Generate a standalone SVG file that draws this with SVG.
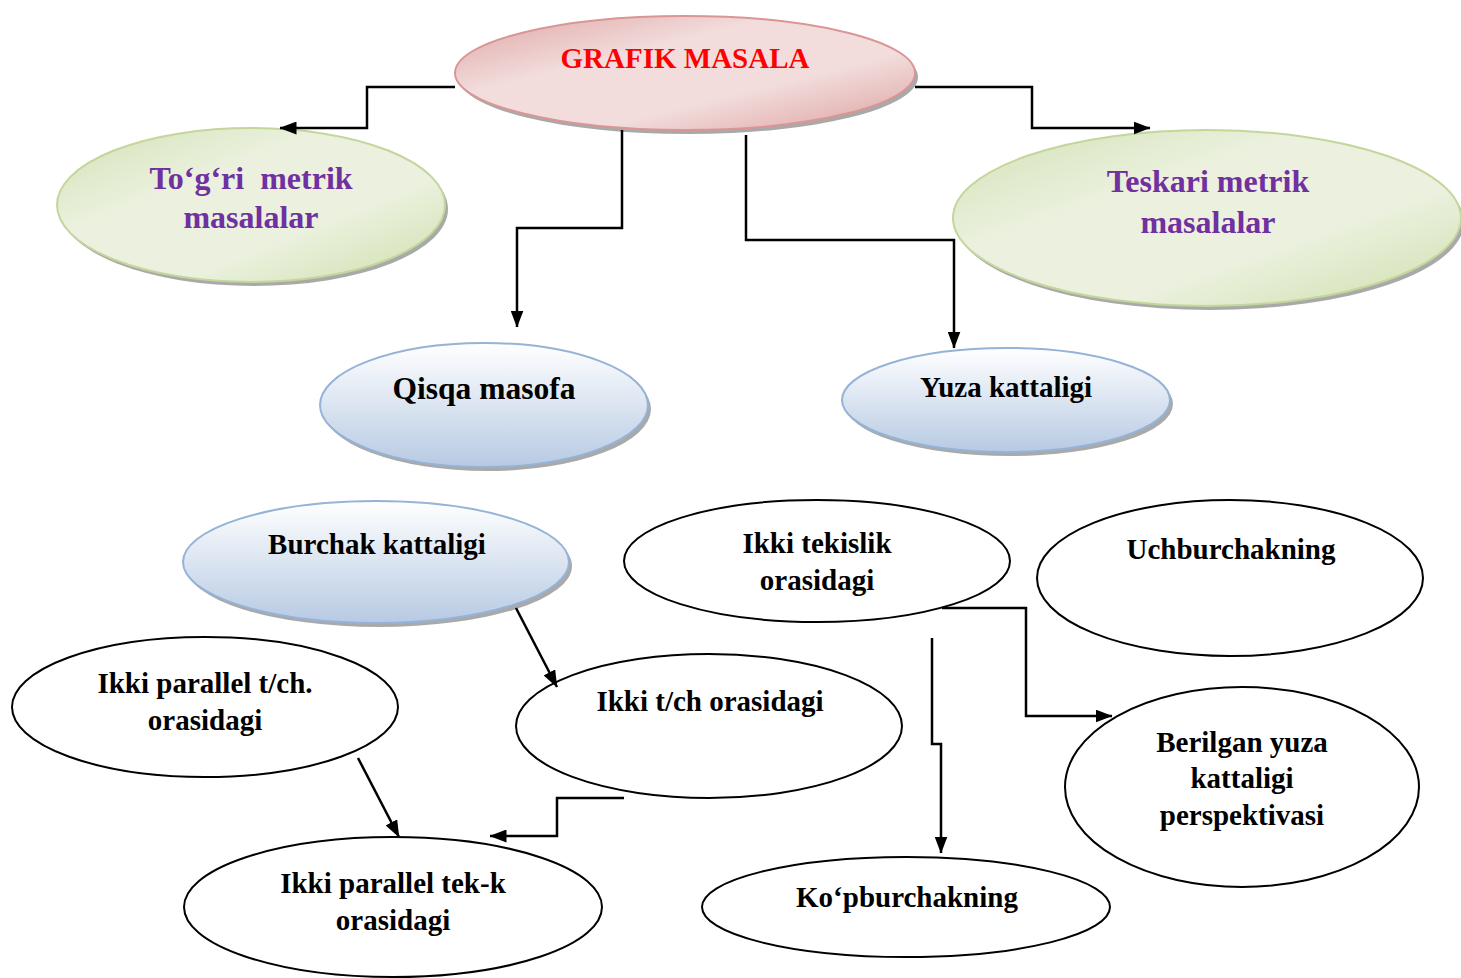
<svg xmlns="http://www.w3.org/2000/svg" width="1461" height="978" viewBox="0 0 1461 978">
<style>
text{font-family:"Liberation Serif","Times New Roman",serif;font-weight:bold;text-anchor:middle}
.t{font-size:29px;fill:#000}
.p{font-size:32px;fill:#7030a0}
.plain{fill:#fff;stroke:#000;stroke-width:2}
.shadow{fill:#8c8c8c;opacity:0.75}
.conn{fill:none;stroke:#000;stroke-width:2.5}
</style>
<defs>
<linearGradient id="gRed" x1="0" y1="0" x2="1" y2="1">
<stop offset="0" stop-color="#dea4a3"/>
<stop offset="0.35" stop-color="#f2dcdc"/>
<stop offset="0.65" stop-color="#f2dcdc"/>
<stop offset="1" stop-color="#dca09e"/>
</linearGradient>
<linearGradient id="gGreen" x1="0" y1="0" x2="1" y2="1">
<stop offset="0" stop-color="#d3e1b5"/>
<stop offset="0.35" stop-color="#ebf1de"/>
<stop offset="0.65" stop-color="#ebf1de"/>
<stop offset="1" stop-color="#cfdeac"/>
</linearGradient>
<linearGradient id="gBlue" x1="0" y1="0" x2="0" y2="1">
<stop offset="0" stop-color="#ffffff"/>
<stop offset="1" stop-color="#b7cae3"/>
</linearGradient>
<marker id="arr" viewBox="0 0 17 13" refX="16.5" refY="6.5" markerWidth="17" markerHeight="13" markerUnits="userSpaceOnUse" orient="auto">
<path d="M0,0 L17,6.5 L0,13 z" fill="#000"/>
</marker>
</defs>

<g id="grafik-masala">
<ellipse class="shadow" cx="688" cy="77" rx="230" ry="57"/>
<ellipse cx="685" cy="73" rx="230" ry="57" fill="url(#gRed)" stroke="#d99694" stroke-width="2"/>
<text x="685" y="68" font-size="29" fill="#ff0000">GRAFIK MASALA</text>
</g>

<g id="togri-metrik">
<ellipse class="shadow" cx="254" cy="209" rx="194" ry="77"/>
<ellipse cx="251" cy="205" rx="194" ry="77" fill="url(#gGreen)" stroke="#c3d69b" stroke-width="2"/>
<text x="251" y="189" class="p" xml:space="preserve">To‘g‘ri  metrik</text>
<text x="251" y="228" class="p">masalalar</text>
</g>

<g id="teskari-metrik">
<ellipse class="shadow" cx="1210" cy="222" rx="254" ry="88"/>
<ellipse cx="1207" cy="218" rx="254" ry="88" fill="url(#gGreen)" stroke="#c3d69b" stroke-width="2"/>
<text x="1208" y="192" class="p">Teskari metrik</text>
<text x="1208" y="233" class="p">masalalar</text>
</g>

<g id="qisqa-masofa">
<ellipse class="shadow" cx="487" cy="409" rx="164" ry="62"/>
<ellipse cx="484" cy="405" rx="164" ry="62" fill="url(#gBlue)" stroke="#95b3d7" stroke-width="2"/>
<text x="484" y="399" font-size="31.5" fill="#000">Qisqa masofa</text>
</g>

<g id="yuza-kattaligi">
<ellipse class="shadow" cx="1009" cy="404" rx="164" ry="52"/>
<ellipse cx="1006" cy="400" rx="164" ry="52" fill="url(#gBlue)" stroke="#95b3d7" stroke-width="2"/>
<text x="1006" y="397" class="t">Yuza kattaligi</text>
</g>

<g id="burchak-kattaligi">
<ellipse class="shadow" cx="379" cy="566" rx="193" ry="61"/>
<ellipse cx="376" cy="562" rx="193" ry="61" fill="url(#gBlue)" stroke="#95b3d7" stroke-width="2"/>
<text x="377" y="554" class="t">Burchak kattaligi</text>
</g>

<g id="ikki-tekislik">
<ellipse class="plain" cx="817" cy="561" rx="193" ry="61"/>
<text x="817" y="553" class="t">Ikki tekislik</text>
<text x="817" y="590" class="t">orasidagi</text>
</g>

<g id="uchburchakning">
<ellipse class="plain" cx="1230" cy="578" rx="193" ry="78"/>
<text x="1231" y="559" class="t">Uchburchakning</text>
</g>

<g id="ikki-parallel-tch">
<ellipse class="plain" cx="205" cy="707" rx="193" ry="70"/>
<text x="205" y="693" class="t">Ikki parallel t/ch.</text>
<text x="205" y="730" class="t">orasidagi</text>
</g>

<g id="ikki-tch-orasidagi">
<ellipse class="plain" cx="709" cy="726" rx="193" ry="72"/>
<text x="710" y="711" class="t">Ikki t/ch orasidagi</text>
</g>

<g id="berilgan-yuza">
<ellipse class="plain" cx="1242" cy="787" rx="177" ry="100"/>
<text x="1242" y="752" class="t">Berilgan yuza</text>
<text x="1242" y="788" class="t">kattaligi</text>
<text x="1242" y="825" class="t">perspektivasi</text>
</g>

<g id="ikki-parallel-tekk">
<ellipse class="plain" cx="393" cy="907" rx="209" ry="70"/>
<text x="393" y="893" class="t">Ikki parallel tek-k</text>
<text x="393" y="930" class="t">orasidagi</text>
</g>

<g id="kopburchakning">
<ellipse class="plain" cx="906" cy="907" rx="204" ry="50"/>
<text x="907" y="907" class="t">Ko‘pburchakning</text>
</g>

<g id="connectors">
<path class="conn" d="M455,87 H367 V128 H280" marker-end="url(#arr)"/>
<path class="conn" d="M915,87 H1032 V128 H1150" marker-end="url(#arr)"/>
<path class="conn" d="M622,130 V228 H517 V327" marker-end="url(#arr)"/>
<path class="conn" d="M746,135 V240 H954 V348" marker-end="url(#arr)"/>
<path class="conn" d="M516,608 L557,687" marker-end="url(#arr)"/>
<path class="conn" d="M358,758 L399,837" marker-end="url(#arr)"/>
<path class="conn" d="M624,798 H557 V836 H490" marker-end="url(#arr)"/>
<path class="conn" d="M942,608 H1026 V716 H1112" marker-end="url(#arr)"/>
<path class="conn" d="M932,638 V744 H941 V853" marker-end="url(#arr)"/>
</g>
</svg>
